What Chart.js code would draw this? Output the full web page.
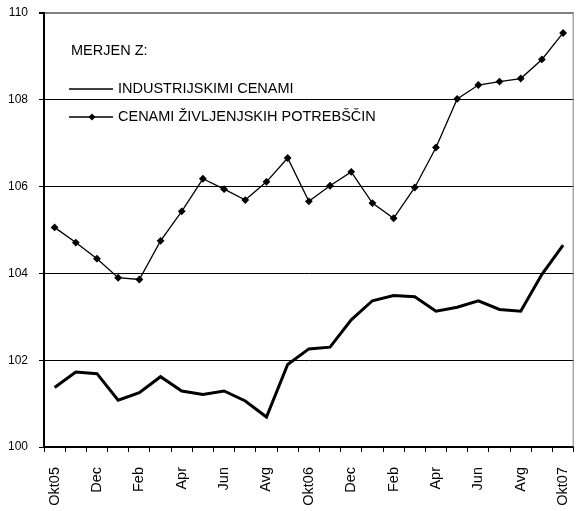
<!DOCTYPE html>
<html>
<head>
<meta charset="utf-8">
<script src="https://cdn.jsdelivr.net/npm/chart.js@4/dist/chart.umd.min.js"></script>
<style>
  html, body { margin: 0; padding: 0; background: #fff; }
  #wrap { width: 579px; height: 511px; position: relative; }
</style>
</head>
<body>
<div id="wrap"><canvas id="chart"></canvas></div>
<script>
const months = [
  "Okt05", "Nov", "Dec", "Jan", "Feb", "Mar", "Apr", "Maj", "Jun", "Jul", "Avg", "Sep",
  "Okt06", "Nov", "Dec", "Jan", "Feb", "Mar", "Apr", "Maj", "Jun", "Jul", "Avg", "Sep",
  "Okt07"
];
const industrialPrices = [
  101.37, 101.73, 101.69, 101.08, 101.25, 101.62, 101.29, 101.21, 101.29, 101.06, 100.69, 101.9,
  102.26, 102.3, 102.93, 103.37, 103.49, 103.46, 103.13, 103.22, 103.37, 103.17, 103.13, 103.98,
  104.65
];
const consumerPrices = [
  105.06, 104.71, 104.34, 103.9, 103.86, 104.75, 105.43, 106.18, 105.94, 105.69, 106.11, 106.66,
  105.66, 106.02, 106.34, 105.62, 105.27, 105.98, 106.9, 108.02, 108.34, 108.42, 108.49, 108.93,
  109.54
];
const legendTitle = "MERJEN Z:";
const yTicks = { min: 100, max: 110, step: 2 };

const FONT = "'Liberation Sans', Arial, sans-serif";

// legend drawn inside the plot area, plus the grey frame on the right
const insideLegend = {
  id: "insideLegend",
  afterDraw(chart) {
    const ctx = chart.ctx;
    const area = chart.chartArea;
    ctx.save();

    ctx.strokeStyle = "#808080";
    ctx.lineWidth = 1;
    ctx.beginPath();
    ctx.moveTo(area.right - 0.5, area.top);
    ctx.lineTo(area.right - 0.5, area.bottom);
    ctx.stroke();

    ctx.fillStyle = "#000";
    ctx.font = "14.5px " + FONT;
    ctx.textBaseline = "middle";
    ctx.fillText(legendTitle, 71, 51);

    const rows = [89, 117];
    chart.data.datasets.forEach((ds, i) => {
      const y = rows[i];
      ctx.strokeStyle = "#000";
      ctx.lineWidth = 1.4;
      ctx.beginPath();
      ctx.moveTo(69, y);
      ctx.lineTo(113, y);
      ctx.stroke();
      if (ds.pointRadius > 0) {
        ctx.beginPath();
        ctx.moveTo(92, y - 3.5);
        ctx.lineTo(95.5, y);
        ctx.lineTo(92, y + 3.5);
        ctx.lineTo(88.5, y);
        ctx.closePath();
        ctx.fill();
      }
      ctx.fillText(ds.label, 118, y);
    });
    ctx.restore();
  }
};

new Chart(document.getElementById("chart"), {
  type: "line",
  data: {
    labels: months,
    datasets: [
      {
        label: "INDUSTRIJSKIMI CENAMI",
        data: industrialPrices,
        borderColor: "#000",
        backgroundColor: "#000",
        borderWidth: 3,
        pointRadius: 0,
        tension: 0
      },
      {
        label: "CENAMI ŽIVLJENJSKIH POTREBŠČIN",
        data: consumerPrices,
        borderColor: "#000",
        backgroundColor: "#000",
        borderWidth: 1.3,
        pointStyle: "rectRot",
        pointRadius: 3,
        tension: 0
      }
    ]
  },
  options: {
    responsive: true,
    maintainAspectRatio: false,
    animation: false,
    layout: { padding: { top: 13, right: 1, left: 0, bottom: 0 } },
    plugins: {
      legend: { display: false },
      tooltip: { enabled: false }
    },
    scales: {
      x: {
        offset: true,
        afterFit: (scale) => {
          scale.height = 64;
          scale.paddingLeft = 0;
          scale.paddingRight = 0;
        },
        grid: {
          offset: true,
          drawOnChartArea: false,
          color: "#000",
          tickLength: 5
        },
        border: { color: "#000", width: 2 },
        ticks: {
          autoSkip: false,
          maxRotation: 90,
          minRotation: 90,
          padding: 15,
          color: "#000",
          font: { family: FONT, size: 14.5 },
          callback: function (value, index) {
            return index % 2 === 0 ? months[index] : "";
          }
        }
      },
      y: {
        min: yTicks.min,
        max: yTicks.max,
        afterFit: (scale) => {
          scale.width = 44;
          scale.paddingTop = 0;
          scale.paddingBottom = 0;
        },
        grid: {
          color: (c) => (c.tick && c.tick.value === yTicks.max ? "#808080" : "#000"),
          lineWidth: (c) => (c.tick && c.tick.value === yTicks.max ? 2 : 1),
          tickColor: "#000",
          tickLength: 5
        },
        border: { color: "#000", width: 2 },
        ticks: {
          stepSize: yTicks.step,
          padding: 11,
          color: "#000",
          font: { family: FONT, size: 12 }
        }
      }
    }
  },
  plugins: [insideLegend]
});
</script>
</body>
</html>
